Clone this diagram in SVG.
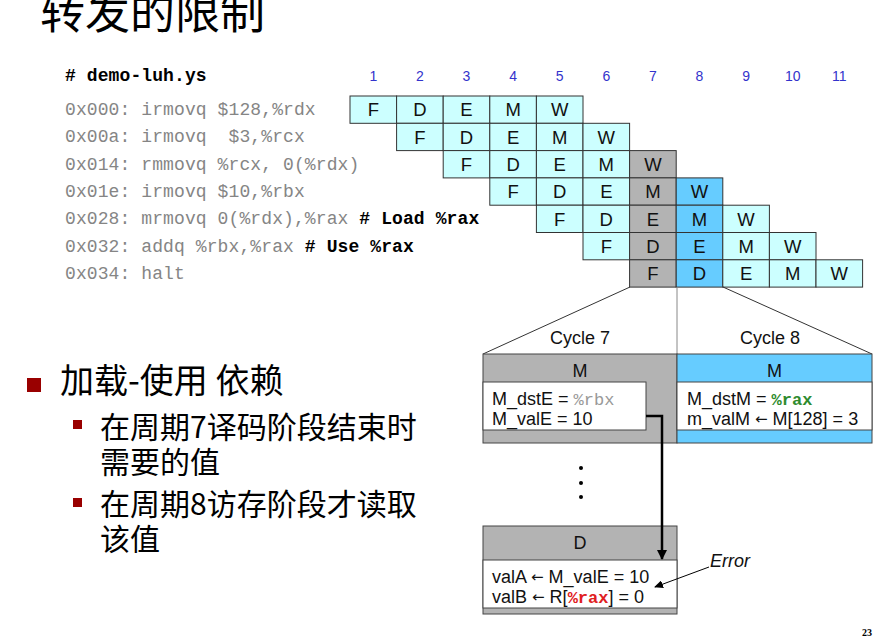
<svg xmlns="http://www.w3.org/2000/svg" width="884" height="643" viewBox="0 0 884 643">
<style>
.cjk{font-family:"Noto Sans CJK SC",sans-serif;fill:#000}
.code{font-family:"Liberation Mono",monospace;font-size:18px;letter-spacing:0.1px;fill:#858585;white-space:pre}
.bold{font-weight:bold;fill:#000}
.num{font-family:"Liberation Sans",Arial,sans-serif;font-size:14px;fill:#3333cc;text-anchor:middle}
.cell{stroke:#333;stroke-width:1}
.c{fill:#ccffff}
.g{fill:#b3b3b3}
.b{fill:#66ccff}
.t{font-family:"Liberation Sans",Arial,sans-serif;font-size:18.5px;fill:#111;text-anchor:middle}
.s{font-family:"Liberation Sans",Arial,sans-serif;font-size:18px;fill:#111}
.mono{font-family:"Liberation Mono",monospace;font-size:17px}
.arr{font-family:"DejaVu Sans",sans-serif;font-size:15px}
.box{stroke:#444;stroke-width:1}
</style>
<defs>
<marker id="ah" markerWidth="10" markerHeight="10" refX="9" refY="5" orient="auto" markerUnits="userSpaceOnUse">
<path d="M0,0 L10,5 L0,10 z" fill="#000"/>
</marker>
<marker id="ah2" markerWidth="9" markerHeight="8" refX="8" refY="4" orient="auto" markerUnits="userSpaceOnUse">
<path d="M0,0 L9,4 L0,8 z" fill="#000"/>
</marker>
</defs>
<rect width="884" height="643" fill="#fff"/>

<g id="title">
<text class="cjk" x="40" y="29" font-size="45">转发的限制</text>
</g>

<g id="bullets">
<rect x="27" y="378" width="14" height="14" fill="#990000"/>
<text class="cjk" x="60" y="393" font-size="34">加载-使用 依赖</text>
<rect x="73" y="420" width="9" height="9" fill="#990000"/>
<text class="cjk" x="100" y="438" font-size="30">在周期7译码阶段结束时</text>
<text class="cjk" x="100" y="473" font-size="30">需要的值</text>
<rect x="73" y="498" width="9" height="9" fill="#990000"/>
<text class="cjk" x="100" y="515" font-size="30">在周期8访存阶段才读取</text>
<text class="cjk" x="100" y="550" font-size="30">该值</text>
</g>

<g id="code">
<text class="code bold" x="65" y="81"># demo-luh.ys</text>
<text class="code" x="65" y="115">0x000: irmovq $128,%rdx</text>
<text class="code" x="65" y="142">0x00a: irmovq  $3,%rcx</text>
<text class="code" x="65" y="169.5">0x014: rmmovq %rcx, 0(%rdx)</text>
<text class="code" x="65" y="197">0x01e: irmovq $10,%rbx</text>
<text class="code" x="65" y="224">0x028: mrmovq 0(%rdx),%rax <tspan class="bold"># Load %rax</tspan></text>
<text class="code" x="65" y="251.5">0x032: addq %rbx,%rax <tspan class="bold"># Use %rax</tspan></text>
<text class="code" x="65" y="279">0x034: halt</text>
</g>

<g id="cycle-numbers">
<text class="num" x="373.3" y="81">1</text>
<text class="num" x="419.9" y="81">2</text>
<text class="num" x="466.5" y="81">3</text>
<text class="num" x="513.1" y="81">4</text>
<text class="num" x="559.7" y="81">5</text>
<text class="num" x="606.3" y="81">6</text>
<text class="num" x="652.9" y="81">7</text>
<text class="num" x="699.5" y="81">8</text>
<text class="num" x="746.1" y="81">9</text>
<text class="num" x="792.7" y="81">10</text>
<text class="num" x="839.3" y="81">11</text>
</g>

<g id="pipeline">
<rect class="cell c" x="350" y="96" width="46.6" height="27.3"/>
<rect class="cell c" x="396.6" y="96" width="46.6" height="27.3"/>
<rect class="cell c" x="443.2" y="96" width="46.6" height="27.3"/>
<rect class="cell c" x="489.8" y="96" width="46.6" height="27.3"/>
<rect class="cell c" x="536.4" y="96" width="46.6" height="27.3"/>
<text class="t" x="373.3" y="116.3">F</text>
<text class="t" x="419.9" y="116.3">D</text>
<text class="t" x="466.5" y="116.3">E</text>
<text class="t" x="513.1" y="116.3">M</text>
<text class="t" x="559.7" y="116.3">W</text>
<rect class="cell c" x="396.6" y="123.3" width="46.6" height="27.3"/>
<rect class="cell c" x="443.2" y="123.3" width="46.6" height="27.3"/>
<rect class="cell c" x="489.8" y="123.3" width="46.6" height="27.3"/>
<rect class="cell c" x="536.4" y="123.3" width="46.6" height="27.3"/>
<rect class="cell c" x="583" y="123.3" width="46.6" height="27.3"/>
<text class="t" x="419.9" y="143.6">F</text>
<text class="t" x="466.5" y="143.6">D</text>
<text class="t" x="513.1" y="143.6">E</text>
<text class="t" x="559.7" y="143.6">M</text>
<text class="t" x="606.3" y="143.6">W</text>
<rect class="cell c" x="443.2" y="150.6" width="46.6" height="27.3"/>
<rect class="cell c" x="489.8" y="150.6" width="46.6" height="27.3"/>
<rect class="cell c" x="536.4" y="150.6" width="46.6" height="27.3"/>
<rect class="cell c" x="583" y="150.6" width="46.6" height="27.3"/>
<rect class="cell g" x="629.6" y="150.6" width="46.6" height="27.3"/>
<text class="t" x="466.5" y="170.9">F</text>
<text class="t" x="513.1" y="170.9">D</text>
<text class="t" x="559.7" y="170.9">E</text>
<text class="t" x="606.3" y="170.9">M</text>
<text class="t" x="652.9" y="170.9">W</text>
<rect class="cell c" x="489.8" y="177.9" width="46.6" height="27.3"/>
<rect class="cell c" x="536.4" y="177.9" width="46.6" height="27.3"/>
<rect class="cell c" x="583" y="177.9" width="46.6" height="27.3"/>
<rect class="cell g" x="629.6" y="177.9" width="46.6" height="27.3"/>
<rect class="cell b" x="676.2" y="177.9" width="46.6" height="27.3"/>
<text class="t" x="513.1" y="198.2">F</text>
<text class="t" x="559.7" y="198.2">D</text>
<text class="t" x="606.3" y="198.2">E</text>
<text class="t" x="652.9" y="198.2">M</text>
<text class="t" x="699.5" y="198.2">W</text>
<rect class="cell c" x="536.4" y="205.2" width="46.6" height="27.3"/>
<rect class="cell c" x="583" y="205.2" width="46.6" height="27.3"/>
<rect class="cell g" x="629.6" y="205.2" width="46.6" height="27.3"/>
<rect class="cell b" x="676.2" y="205.2" width="46.6" height="27.3"/>
<rect class="cell c" x="722.8" y="205.2" width="46.6" height="27.3"/>
<text class="t" x="559.7" y="225.5">F</text>
<text class="t" x="606.3" y="225.5">D</text>
<text class="t" x="652.9" y="225.5">E</text>
<text class="t" x="699.5" y="225.5">M</text>
<text class="t" x="746.1" y="225.5">W</text>
<rect class="cell c" x="583" y="232.5" width="46.6" height="27.3"/>
<rect class="cell g" x="629.6" y="232.5" width="46.6" height="27.3"/>
<rect class="cell b" x="676.2" y="232.5" width="46.6" height="27.3"/>
<rect class="cell c" x="722.8" y="232.5" width="46.6" height="27.3"/>
<rect class="cell c" x="769.4" y="232.5" width="46.6" height="27.3"/>
<text class="t" x="606.3" y="252.8">F</text>
<text class="t" x="652.9" y="252.8">D</text>
<text class="t" x="699.5" y="252.8">E</text>
<text class="t" x="746.1" y="252.8">M</text>
<text class="t" x="792.7" y="252.8">W</text>
<rect class="cell g" x="629.6" y="259.8" width="46.6" height="27.3"/>
<rect class="cell b" x="676.2" y="259.8" width="46.6" height="27.3"/>
<rect class="cell c" x="722.8" y="259.8" width="46.6" height="27.3"/>
<rect class="cell c" x="769.4" y="259.8" width="46.6" height="27.3"/>
<rect class="cell c" x="816" y="259.8" width="46.6" height="27.3"/>
<text class="t" x="652.9" y="280.1">F</text>
<text class="t" x="699.5" y="280.1">D</text>
<text class="t" x="746.1" y="280.1">E</text>
<text class="t" x="792.7" y="280.1">M</text>
<text class="t" x="839.3" y="280.1">W</text>
</g>

<g id="zoom-lines" fill="none" stroke-width="1">
<line x1="630" y1="287" x2="483" y2="354" stroke="#333"/>
<line x1="723" y1="287" x2="872" y2="354" stroke="#333"/>
<line x1="677" y1="287" x2="677" y2="354" stroke="#888"/>
<text class="s" x="580" y="344" font-size="19.5" text-anchor="middle">Cycle 7</text>
<text class="s" x="770" y="344" font-size="19.5" text-anchor="middle">Cycle 8</text>
</g>

<g id="cycle7-M">
<rect class="box g" x="483" y="354" width="194" height="89"/>
<text class="s" x="580" y="377" text-anchor="middle">M</text>
<rect class="box" x="483" y="382" width="163" height="48" fill="#fff"/>
<text class="s" x="492" y="405">M_dstE = <tspan class="mono" fill="#999">%rbx</tspan></text>
<text class="s" x="492" y="425">M_valE = 10</text>
</g>

<g id="cycle8-M">
<rect class="box b" x="677" y="354" width="195" height="89"/>
<text class="s" x="774.5" y="377" text-anchor="middle">M</text>
<rect class="box" x="677" y="382" width="195" height="48" fill="#fff"/>
<text class="s" x="687" y="405">M_dstM = <tspan class="mono" font-weight="bold" fill="#2e8b2e">%rax</tspan></text>
<text class="s" x="687" y="425">m_valM <tspan class="arr" dy="-1">←</tspan><tspan dy="1"> M[128] = 3</tspan></text>
</g>

<g id="ellipsis" fill="#000">
<circle cx="581" cy="468" r="2"/>
<circle cx="581" cy="483" r="2"/>
<circle cx="581" cy="497" r="2"/>
</g>

<g id="cycle7-D">
<rect class="box g" x="483" y="526" width="194" height="88"/>
<text class="s" x="580" y="549" text-anchor="middle">D</text>
<rect class="box" x="483" y="560" width="194" height="48" fill="#fff"/>
<text class="s" x="492" y="583">valA <tspan class="arr" dy="-1">←</tspan><tspan dy="1"> M_valE = 10</tspan></text>
<text class="s" x="492" y="603">valB <tspan class="arr" dy="-1">←</tspan><tspan dy="1"> R[</tspan><tspan class="mono" font-weight="bold" fill="#e02020">%rax</tspan>] = 0</text>
</g>

<g id="error-label">
<text class="s" x="710" y="567" font-style="italic">Error</text>
</g>

<g id="connectors" fill="none" stroke="#000">
<polyline points="646,416 662,416 662,559" stroke-width="2.5" marker-end="url(#ah)"/>
<line x1="709" y1="567" x2="655" y2="587" stroke-width="1" marker-end="url(#ah2)"/>
</g>

<g id="page-number">
<text x="862" y="636" font-family="Liberation Serif,serif" font-size="10" font-weight="bold">23</text>
</g>
</svg>
